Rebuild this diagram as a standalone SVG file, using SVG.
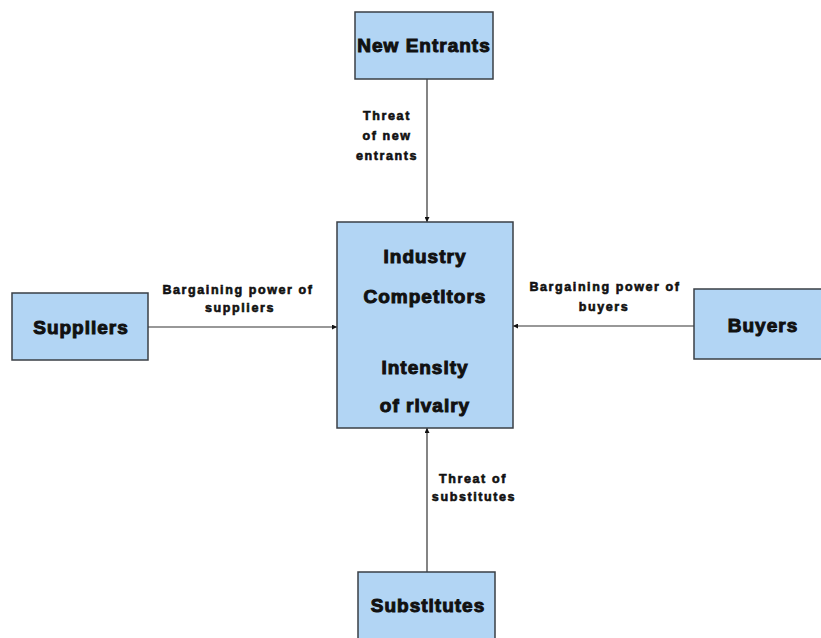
<svg xmlns="http://www.w3.org/2000/svg" width="821" height="638" viewBox="0 0 821 638">
  <style>
    .box { fill: #b2d5f4; stroke: #3a3f45; stroke-width: 1.5; }
    .name { font-family: "Liberation Sans", Arial, sans-serif; font-weight: bold; font-size: 19px; letter-spacing: 1px; fill: #111; text-anchor: middle; stroke: #111; stroke-width: 1; }
    .lbl { font-family: "Liberation Sans", Arial, sans-serif; font-weight: bold; font-size: 12.5px; letter-spacing: 1.6px; fill: #111; text-anchor: middle; stroke: #111; stroke-width: 0.6; }
    .conn { stroke: #333; stroke-width: 1.2; fill: none; marker-end: url(#head); }
  </style>
  <defs>
    <marker id="head" viewBox="0 0 10 10" refX="10" refY="5" markerWidth="5" markerHeight="5" orient="auto" markerUnits="userSpaceOnUse">
      <path d="M0,0 L10,5 L0,10 z" fill="#111"/>
    </marker>
  </defs>
  <rect width="821" height="638" fill="#ffffff"/>

  <g id="connectors">
    <line class="conn" x1="427" y1="79" x2="427" y2="222"/>
    <line class="conn" x1="148" y1="327" x2="337" y2="327"/>
    <line class="conn" x1="694" y1="326" x2="513" y2="326"/>
    <line class="conn" x1="427" y1="572" x2="427" y2="428"/>
    <text class="lbl" x="387" y="120">Threat</text>
    <text class="lbl" x="387" y="140">of new</text>
    <text class="lbl" x="387" y="160">entrants</text>
    <text class="lbl" x="238" y="294">Bargaining power of</text>
    <text class="lbl" x="240" y="312">suppliers</text>
    <text class="lbl" x="605" y="291">Bargaining power of</text>
    <text class="lbl" x="604" y="311">buyers</text>
    <text class="lbl" x="473" y="483">Threat of</text>
    <text class="lbl" x="474" y="501">substitutes</text>
  </g>

  <g id="new-entrants">
    <rect class="box" x="355" y="12" width="138" height="67"/>
    <text class="name" x="424" y="52">New Entrants</text>
  </g>

  <g id="industry-competitors">
    <rect class="box" x="337" y="222" width="176" height="206"/>
    <text class="name" x="425" y="263">Industry</text>
    <text class="name" x="425" y="303">Competitors</text>
    <text class="name" x="425" y="374">Intensity</text>
    <text class="name" x="425" y="412">of rivalry</text>
  </g>

  <g id="suppliers">
    <rect class="box" x="12" y="293" width="136" height="67"/>
    <text class="name" x="81" y="334">Suppliers</text>
  </g>

  <g id="buyers">
    <rect class="box" x="694" y="289" width="140" height="70"/>
    <text class="name" x="763" y="332">Buyers</text>
  </g>

  <g id="substitutes">
    <rect class="box" x="358" y="572" width="137" height="80"/>
    <text class="name" x="428" y="612">Substitutes</text>
  </g>
</svg>
